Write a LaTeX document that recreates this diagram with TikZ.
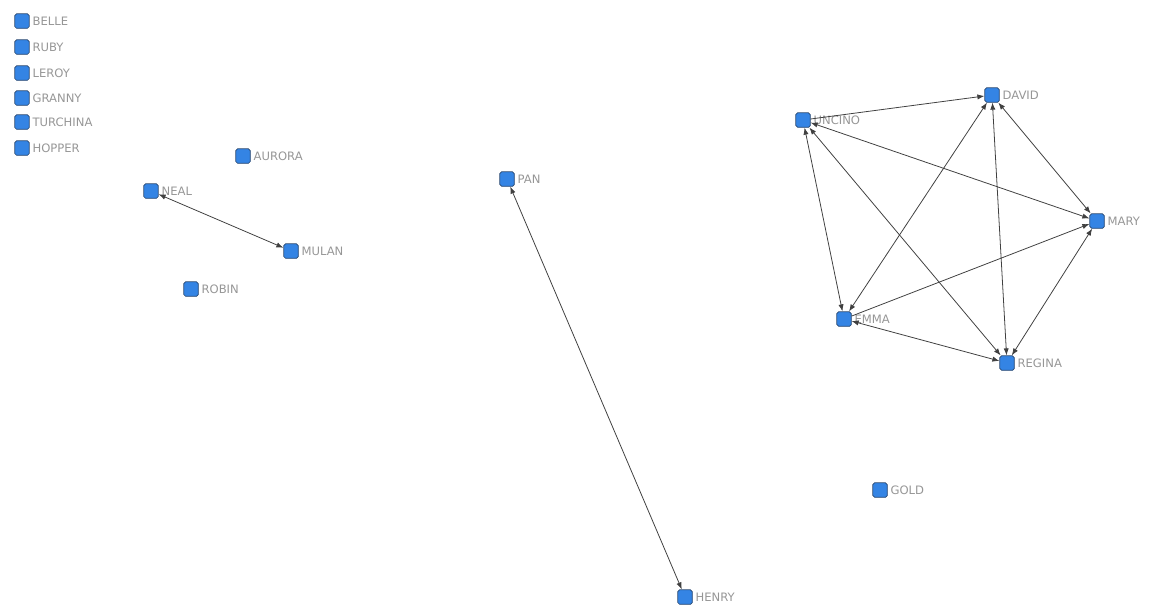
\documentclass[tikz,border=0pt]{standalone}
\usepackage{fontspec}
\setmainfont{DejaVu Sans}
\usepackage{tikz}
\usetikzlibrary{arrows.meta,positioning}

\definecolor{nodeblue}{RGB}{52,132,228}
\definecolor{nodeedge}{RGB}{40,70,110}
\definecolor{lblgray}{RGB}{150,150,150}

\begin{document}
\begin{tikzpicture}[x=0.02cm,y=-0.02cm,
        vertex/.style={draw=nodeedge,fill=nodeblue,rounded corners=1pt,minimum size=0.29cm,inner sep=0pt},
        lbl/.style={text=lblgray,font=\fontsize{6.6}{8}\selectfont,inner sep=0.5pt},
        link/.style={draw=black!75,line width=0.45pt,-{Latex[length=4pt,width=3pt]}},
        both/.style={link,{Latex[length=4pt,width=3pt]}-{Latex[length=4pt,width=3pt]}}]
        \useasboundingbox (0,0) rectangle (1150,610);
        \foreach \n/\x/\y in {BELLE/22/21,RUBY/22/47,LEROY/22/73,GRANNY/22/98,TURCHINA/22/122,HOPPER/22/148,
            AURORA/243/156,NEAL/151/191,MULAN/291/251,ROBIN/191/289,PAN/507/179,HENRY/685/597,GOLD/880/490,
            UNCINO/803/120,DAVID/992/95,MARY/1097/221,EMMA/844/319,REGINA/1007/363}
        \node[vertex,label={[lbl,label distance=1pt]right:\n}](\n) at (\x,\y) {};
        % edges
        \draw[both](NEAL)--(MULAN);
        \draw[both](PAN)--(HENRY);
        \draw[link](UNCINO)--(DAVID);
        \draw[link](EMMA)--(MARY);
        \foreach \a/\b in {UNCINO/MARY,UNCINO/EMMA,UNCINO/REGINA,DAVID/EMMA,DAVID/REGINA,DAVID/MARY,EMMA/REGINA,MARY/REGINA}
        \draw[both](\a)--(\b);
\end{tikzpicture}
\end{document}
